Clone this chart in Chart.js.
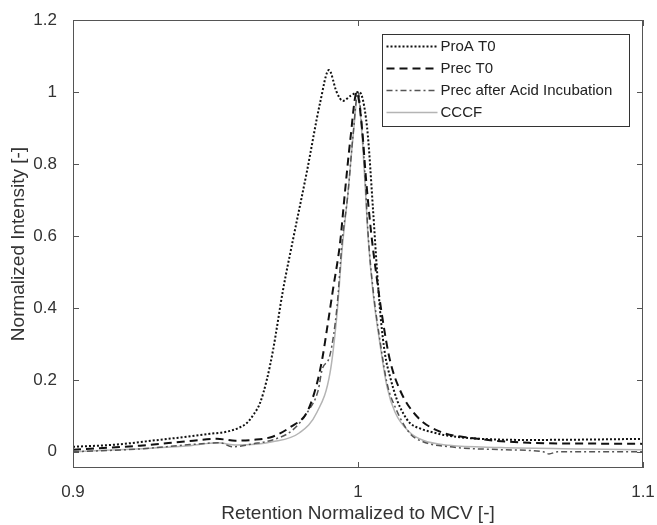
<!DOCTYPE html>
<html>
<head>
<meta charset="utf-8">
<script src="https://cdn.jsdelivr.net/npm/chart.js@4.4.1/dist/chart.umd.min.js"></script>
<style>
  body { margin: 0; background: #fff; }
  #wrap { width: 657px; height: 525px; }
</style>
</head>
<body>
<div id="wrap"><canvas id="elutionChart" width="657" height="525"></canvas></div>
<script>
// Normalized retention (x) and normalized intensity (y) for each trace
const proaX = [0.900, 0.915, 0.930, 0.940, 0.948, 0.954, 0.958, 0.961, 0.9635, 0.9656, 0.968, 0.9702, 0.9737,
  0.9772, 0.9821, 0.9867, 0.9898, 0.9925, 0.9947, 0.9975, 1.0004, 1.0032, 1.0053, 1.0067, 1.0080, 1.0095,
  1.0112, 1.0137, 1.0160, 1.0182, 1.0220, 1.0253, 1.0300, 1.0393, 1.0600, 1.0800, 1.1000];
const proaY = [0.014, 0.020, 0.033, 0.042, 0.050, 0.056, 0.066, 0.080, 0.105, 0.135, 0.200, 0.283, 0.450,
  0.590, 0.780, 0.970, 1.061, 1.000, 0.975, 0.990, 1.000, 0.900, 0.670, 0.500, 0.370, 0.270,
  0.210, 0.144, 0.105, 0.080, 0.064, 0.056, 0.047, 0.038, 0.033, 0.034, 0.036];

const precX = [0.900, 0.9235, 0.941, 0.9505, 0.957, 0.963, 0.970, 0.9765, 0.9821, 0.9856, 0.9875, 0.9891,
  0.9912, 0.9937, 0.9954, 0.9972, 0.9996, 1.0014, 1.0028, 1.0046, 1.0063, 1.0088, 1.0112, 1.0147, 1.0207,
  1.0288, 1.0393, 1.0600, 1.0800, 1.1000];
const precY = [0.006, 0.017, 0.030, 0.036, 0.031, 0.033, 0.042, 0.070, 0.110, 0.190, 0.260, 0.340,
  0.450, 0.580, 0.720, 0.860, 1.000, 0.900, 0.760, 0.610, 0.500, 0.360, 0.255, 0.172, 0.098,
  0.056, 0.039, 0.025, 0.023, 0.022];

const acidX = [0.900, 0.9235, 0.941, 0.9515, 0.956, 0.963, 0.970, 0.977, 0.9828, 0.9860, 0.9874, 0.9902,
  0.9926, 0.9944, 0.9965, 0.9982, 1.0000, 1.0014, 1.0025, 1.0035, 1.0053, 1.0077, 1.0102, 1.0130, 1.0180,
  1.0228, 1.0320, 1.0500, 1.0650, 1.0670, 1.0700, 1.0850, 1.1000];
const acidY = [0.000, 0.008, 0.020, 0.025, 0.014, 0.022, 0.033, 0.060, 0.117, 0.170, 0.228, 0.270,
  0.400, 0.580, 0.720, 0.875, 1.000, 0.900, 0.760, 0.610, 0.450, 0.310, 0.190, 0.125, 0.053,
  0.028, 0.014, 0.006, 0.000, -0.006, 0.000, 0.000, 0.000];

const cccfX = [0.900, 0.941, 0.9505, 0.9575, 0.970, 0.9795, 0.9856, 0.9902, 0.9926, 0.9944, 0.9965, 0.9982,
  1.0000, 1.0014, 1.0025, 1.0035, 1.0053, 1.0077, 1.0102, 1.0130, 1.0180, 1.0228, 1.0320, 1.0500, 1.0800, 1.1000];
const cccfY = [0.000, 0.017, 0.025, 0.019, 0.028, 0.053, 0.110, 0.220, 0.380, 0.560, 0.720, 0.870,
  0.990, 0.880, 0.740, 0.600, 0.440, 0.300, 0.180, 0.110, 0.055, 0.032, 0.018, 0.012, 0.008, 0.006];

const seriesNames = ['ProA T0', 'Prec T0', 'Prec after Acid Incubation', 'CCCF'];
const xTicks = [0.9, 1, 1.1];
const yTicks = [0, 0.2, 0.4, 0.6, 0.8, 1, 1.2];

const toPoints = (xs, ys) => xs.map((x, i) => ({ x: x, y: ys[i] }));

// Box around the axes, inward tick marks and a legend inside the plot
const framePlugin = {
  id: 'frame',
  afterDatasetsDraw(chart) {
    const { ctx, chartArea: a, scales: { x, y } } = chart;
    ctx.save();
    ctx.strokeStyle = '#555';
    ctx.lineWidth = 1;
    ctx.setLineDash([]);
    ctx.strokeRect(Math.round(a.left) + 0.5, Math.round(a.top) + 0.5, Math.round(a.width) - 1, Math.round(a.height) - 1);
    ctx.beginPath();
    xTicks.forEach(v => {
      const px = Math.round(x.getPixelForValue(v)) + 0.5;
      ctx.moveTo(px, a.bottom); ctx.lineTo(px, a.bottom - 6);
      ctx.moveTo(px, a.top); ctx.lineTo(px, a.top + 6);
    });
    yTicks.forEach(v => {
      const py = Math.round(y.getPixelForValue(v)) + 0.5;
      ctx.moveTo(a.left, py); ctx.lineTo(a.left + 6, py);
      ctx.moveTo(a.right, py); ctx.lineTo(a.right - 6, py);
    });
    ctx.stroke();

    // legend
    const bw = 247, bh = 92;
    const bx = Math.round(a.right - 14 - bw) + 0.5, by = Math.round(a.top + 14) + 0.5;
    ctx.fillStyle = '#fff';
    ctx.fillRect(bx, by, bw, bh);
    ctx.strokeStyle = '#333';
    ctx.strokeRect(bx, by, bw, bh);
    ctx.font = '15px "Liberation Sans", Arial, sans-serif';
    ctx.textBaseline = 'middle';
    chart.data.datasets.forEach((ds, i) => {
      const ly = by + 12 + i * 22;
      ctx.strokeStyle = ds.borderColor;
      ctx.lineWidth = ds.borderWidth;
      ctx.setLineDash(ds.borderDash || []);
      ctx.beginPath();
      ctx.moveTo(bx + 4, ly);
      ctx.lineTo(bx + 55, ly);
      ctx.stroke();
      ctx.fillStyle = '#222';
      ctx.fillText(ds.label, bx + 58, ly);
    });
    ctx.restore();
  }
};

new Chart(document.getElementById('elutionChart').getContext('2d'), {
  type: 'line',
  data: {
    datasets: [{
      label: seriesNames[0],
      data: toPoints(proaX, proaY),
      borderColor: '#111',
      borderWidth: 2,
      borderDash: [2, 2]
    }, {
      label: seriesNames[1],
      data: toPoints(precX, precY),
      borderColor: '#111',
      borderWidth: 2,
      borderDash: [8, 5]
    }, {
      label: seriesNames[2],
      data: toPoints(acidX, acidY),
      borderColor: '#555',
      borderWidth: 1.5,
      borderDash: [6, 3, 2, 3]
    }, {
      label: seriesNames[3],
      data: toPoints(cccfX, cccfY),
      borderColor: '#b4b4b4',
      borderWidth: 1.5
    }]
  },
  options: {
    responsive: false,
    animation: false,
    layout: { padding: { top: 20, right: 14, left: 0, bottom: 0 } },
    elements: {
      point: { radius: 0 },
      line: { cubicInterpolationMode: 'monotone', fill: false }
    },
    plugins: {
      legend: { display: false },
      tooltip: { enabled: false }
    },
    scales: {
      x: {
        type: 'linear',
        min: 0.9,
        max: 1.1,
        grid: { display: false },
        border: { display: false },
        afterBuildTicks: s => { s.ticks = xTicks.map(v => ({ value: v })); },
        afterFit: s => { s.height = 57; s.paddingLeft = 0; s.paddingRight = 0; },
        ticks: {
          padding: 6,
          color: '#333',
          font: { family: '"Liberation Sans", Arial, sans-serif', size: 17 },
          callback: v => String(v)
        },
        title: {
          display: true,
          text: 'Retention Normalized to MCV [-]',
          color: '#333',
          padding: { top: 0, bottom: 0 },
          font: { family: '"Liberation Sans", Arial, sans-serif', size: 19 }
        }
      },
      y: {
        min: -0.045,
        max: 1.2,
        grid: { display: false },
        border: { display: false },
        afterBuildTicks: s => { s.ticks = yTicks.map(v => ({ value: v })); },
        afterFit: s => { s.width = 73; s.paddingTop = 0; s.paddingBottom = 0; },
        ticks: {
          padding: 8,
          color: '#333',
          font: { family: '"Liberation Sans", Arial, sans-serif', size: 17 },
          callback: v => String(v)
        },
        title: {
          display: true,
          text: 'Normalized Intensity [-]',
          color: '#333',
          padding: { top: 7, bottom: 0 },
          font: { family: '"Liberation Sans", Arial, sans-serif', size: 19 }
        }
      }
    }
  },
  plugins: [framePlugin]
});
</script>
</body>
</html>
